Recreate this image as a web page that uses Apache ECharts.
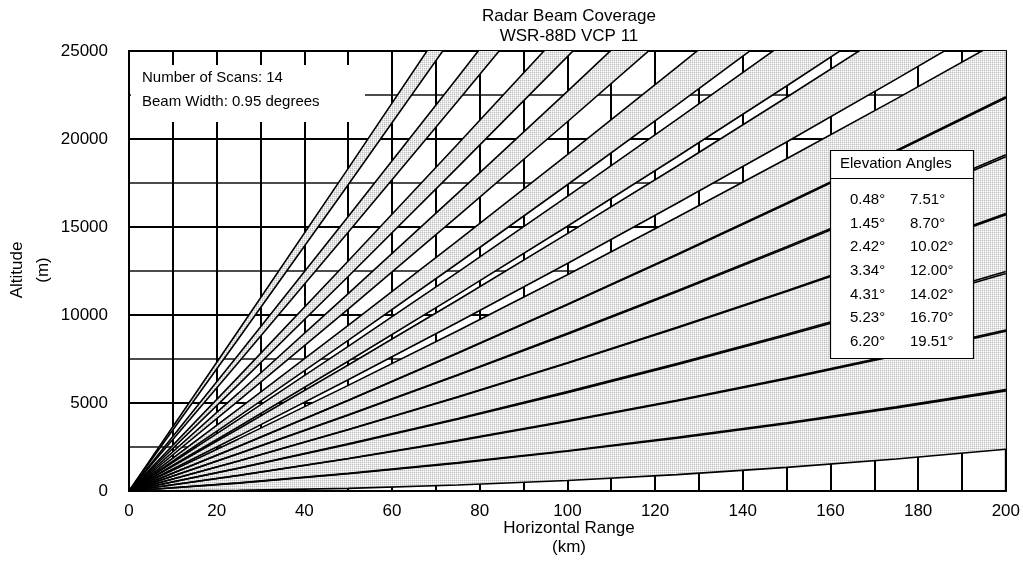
<!DOCTYPE html>
<html><head><meta charset="utf-8">
<script src="https://cdn.jsdelivr.net/npm/echarts@6/dist/echarts.min.js"></script>
<style>html,body{margin:0;padding:0;background:#fff}#c{width:1023px;height:569px}</style>
</head><body><div id="c"></div>
<script>
// Horizontal range sample positions (km)
const rangeKm = [0, 25, 50, 75, 100, 125, 150, 175, 200];
// Elevation angles shown in the legend
const elevationAngles = ['0.48°','1.45°','2.42°','3.34°','4.31°','5.23°','6.20°','7.51°','8.70°','10.02°','12.00°','14.02°','16.70°','19.51°'];
const numberOfScans = 14;
const beamWidthDeg = 0.95;
// Lower edge altitude (m) of each beam at the sample ranges
const beamBottoms = [
  [0,   40,   150,   340,   600,   930,  1340,  1820,  2370],
  [0,  460,  1000,  1610,  2290,  3050,  3880,  4780,  5760],
  [0,  890,  1850,  2880,  3990,  5160,  6420,  7750,  9150],
  [0, 1290,  2650,  4080,  5590,  7180,  8830, 10560, 12360],
  [0, 1710,  3500,  5360,  7290,  9300, 11380, 13530, 15760],
  [0, 2120,  4310,  6570,  8910, 11320, 13800, 16360, 18990],
  [0, 2540,  5160,  7850, 10610, 13450, 16360, 19350, 22400],
  [0, 3120,  6320,  9590, 12930, 16350, 19830, 23400, 27040],
  [0, 3650,  7370, 11170, 15040, 18990, 23010, 27100, 31260],
  [0, 4240,  8560, 12940, 17400, 21940, 26550, 31230, 35980],
  [0, 5130, 10340, 15620, 20980, 26410, 31910, 37490, 43140],
  [0, 6060, 12190, 18400, 24680, 31030, 37460, 43960, 50540],
  [0, 7310, 14700, 22160, 29690, 37290, 44970, 52730, 60550],
  [0, 8660, 17400, 26210, 35090, 44050, 53080, 62180, 71360]
];
// Upper edge altitude (m) of each beam at the sample ranges
const beamTops = [
  [0,  450,   980,  1580,  2260,  3000,  3820,  4720,  5690],
  [0,  880,  1830,  2850,  3950,  5120,  6370,  7680,  9080],
  [0, 1300,  2680,  4120,  5650,  7240,  8910, 10650, 12470],
  [0, 1700,  3480,  5330,  7260,  9260, 11330, 13470, 15690],
  [0, 2130,  4330,  6610,  8960, 11380, 13880, 16450, 19100],
  [0, 2530,  5140,  7820, 10580, 13410, 16310, 19290, 22330],
  [0, 2960,  6000,  9110, 12290, 15550, 18880, 22280, 25760],
  [0, 3540,  7160, 10850, 14620, 18450, 22370, 26350, 30410],
  [0, 4070,  8220, 12440, 16740, 21110, 25550, 30070, 34660],
  [0, 4670,  9410, 14220, 19110, 24080, 29110, 34220, 39400],
  [0, 5570, 11210, 16920, 22710, 28570, 34510, 40520, 46600],
  [0, 6500, 13070, 19720, 26440, 33240, 40100, 47040, 54060],
  [0, 7760, 15600, 23510, 31500, 39550, 47690, 55890, 64170],
  [0, 9130, 18330, 27610, 36960, 46380, 55880, 65450, 75090]
];
const xTickLabels = [0, 20, 40, 60, 80, 100, 120, 140, 160, 180, 200];
const yTickLabels = [0, 5000, 10000, 15000, 20000, 25000];

const FONT = "'Liberation Sans', Arial, Helvetica, sans-serif";

// dotted gray fill pattern
const pc = document.createElement('canvas');
pc.width = 2; pc.height = 2;
const pctx = pc.getContext('2d');
pctx.fillStyle = '#ffffff'; pctx.fillRect(0, 0, 2, 2);
pctx.fillStyle = '#c2c2c2'; pctx.fillRect(0, 0, 1, 1);
pctx.fillStyle = '#e4e4e4'; pctx.fillRect(1, 0, 1, 1); pctx.fillRect(0, 1, 1, 1);
const fillPattern = { image: pc, repeat: 'repeat' };

const series = [];
// beam fills (polygon between lower and upper edge, through the axes' scales)
series.push({
  type: 'custom', clip: true, silent: true, z: 2,
  data: beamBottoms.map((b, i) => [i]),
  renderItem: function (params, api) {
    const i = params.dataIndex;
    const pts = [];
    rangeKm.forEach((x, j) => pts.push(api.coord([x, beamBottoms[i][j]])));
    for (let j = rangeKm.length - 1; j >= 0; j--) pts.push(api.coord([rangeKm[j], beamTops[i][j]]));
    return { type: 'polygon', shape: { points: pts }, style: { fill: fillPattern, stroke: null } };
  }
});
for (let i = 0; i < beamBottoms.length; i++) {
  [beamBottoms[i], beamTops[i]].forEach(edge => {
    series.push({
      type: 'line', symbol: 'none', silent: true, z: 3,
      data: rangeKm.map((x, j) => [x, edge[j]]),
      lineStyle: { color: '#000', width: 1.6 }
    });
  });
}

const gL = 129, gR = 1009, gT = 51, gB = 491;
const graphic = [];
// title
graphic.push({ type: 'text', x: (gL + gR) / 2, y: 16, style: { text: 'Radar Beam Coverage', font: '17px ' + FONT, fill: '#000', textAlign: 'center', textVerticalAlign: 'middle' } });
graphic.push({ type: 'text', x: (gL + gR) / 2, y: 36, style: { text: 'WSR-88D VCP 11', font: '17px ' + FONT, fill: '#000', textAlign: 'center', textVerticalAlign: 'middle' } });
// axis names
graphic.push({ type: 'text', x: 17, y: 270, rotation: Math.PI / 2, style: { text: 'Altitude', font: '17px ' + FONT, fill: '#000', textAlign: 'center', textVerticalAlign: 'middle' } });
graphic.push({ type: 'text', x: 43, y: 270, rotation: Math.PI / 2, style: { text: '(m)', font: '17px ' + FONT, fill: '#000', textAlign: 'center', textVerticalAlign: 'middle' } });
graphic.push({ type: 'text', x: (gL + gR) / 2, y: 528, style: { text: 'Horizontal Range', font: '17px ' + FONT, fill: '#000', textAlign: 'center', textVerticalAlign: 'middle' } });
graphic.push({ type: 'text', x: (gL + gR) / 2, y: 547, style: { text: '(km)', font: '17px ' + FONT, fill: '#000', textAlign: 'center', textVerticalAlign: 'middle' } });
// annotation box
graphic.push({ type: 'rect', shape: { x: 131, y: 65, width: 234, height: 57 }, style: { fill: '#fff' }, z: 10 });
graphic.push({ type: 'text', x: 142, y: 78, z: 11, style: { text: 'Number of Scans: ' + numberOfScans, font: '15px ' + FONT, fill: '#000', textAlign: 'left', textVerticalAlign: 'middle' } });
graphic.push({ type: 'text', x: 142, y: 102, z: 11, style: { text: 'Beam Width: ' + beamWidthDeg.toFixed(2) + ' degrees', font: '15px ' + FONT, fill: '#000', textAlign: 'left', textVerticalAlign: 'middle' } });
// legend box
graphic.push({ type: 'rect', shape: { x: 830.5, y: 150.5, width: 143, height: 208 }, style: { fill: '#fff', stroke: '#000', lineWidth: 1.2 }, z: 10 });
graphic.push({ type: 'line', shape: { x1: 830.5, y1: 178.5, x2: 973.5, y2: 178.5 }, style: { stroke: '#000', lineWidth: 1.2 }, z: 11 });
graphic.push({ type: 'text', x: 840, y: 164, z: 11, style: { text: 'Elevation Angles', font: '15px ' + FONT, fill: '#000', textAlign: 'left', textVerticalAlign: 'middle' } });
const half = Math.ceil(elevationAngles.length / 2);
elevationAngles.forEach((a, i) => {
  const col = i < half ? 0 : 1;
  const row = i % half;
  graphic.push({ type: 'text', x: col === 0 ? 850 : 910, y: 200 + row * 23.6, z: 11,
    style: { text: a, font: '15px ' + FONT, fill: '#000', textAlign: 'left', textVerticalAlign: 'middle' } });
});

const chart = echarts.init(document.getElementById('c'), null, { renderer: 'canvas' });
chart.setOption({
  animation: false,
  backgroundColor: '#fff',
  grid: { left: gL, right: 1023 - gR, top: gT, bottom: 569 - gB, show: true, borderColor: '#000', borderWidth: 2, backgroundColor: 'transparent' },
  xAxis: {
    type: 'value', min: 0, max: 200, interval: 10,
    axisLine: { show: true, lineStyle: { color: '#000', width: 2 } },
    axisTick: { show: false },
    axisLabel: { margin: 12, color: '#000', fontSize: 17, fontFamily: FONT,
      formatter: v => xTickLabels.includes(v) ? String(v) : '' },
    splitLine: { show: true, lineStyle: { color: '#000', width: 2 } }
  },
  yAxis: {
    type: 'value', min: 0, max: 25000, interval: 5000,
    axisLine: { show: true, lineStyle: { color: '#000', width: 2 } },
    axisTick: { show: false },
    minorTick: { show: false, splitNumber: 2 },
    axisLabel: { margin: 21, color: '#000', fontSize: 17, fontFamily: FONT,
      formatter: v => yTickLabels.includes(v) ? String(v) : '' },
    splitLine: { show: true, lineStyle: { color: '#000', width: 2 } },
    minorSplitLine: { show: true, lineStyle: { color: '#111', width: 1.6 } }
  },
  graphic: graphic,
  series: series
});
</script>
</body></html>
